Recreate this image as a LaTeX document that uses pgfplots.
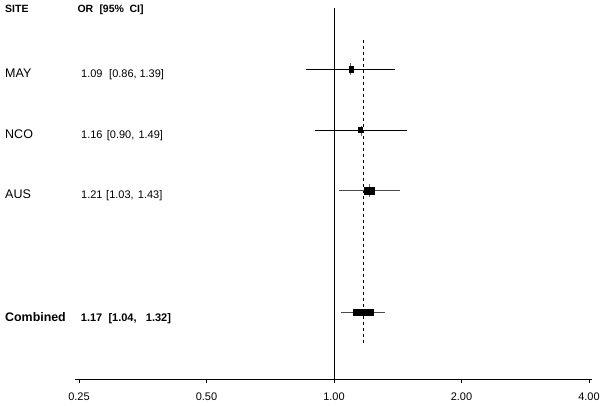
\documentclass[border=0pt]{standalone}
\usepackage{pgfplots}
\pgfplotsset{compat=1.18}
\usepackage{fontspec}
\setmainfont{Liberation Sans}

\begin{document}
\begin{tikzpicture}
\useasboundingbox (0pt,0pt) rectangle (602pt,406pt);
\begin{axis}[
  at={(75pt,27pt)}, anchor=south west,
  scale only axis, width=517pt, height=379pt,
  xmode=log, xmin=0.2446, xmax=4.066,
  ymin=-379, ymax=0,
  axis x line=bottom, axis line style={-, line width=0.7pt, black},
  hide y axis,
  xtick={0.25,0.5,1,2,4},
  xticklabels={0.25,0.50,1.00,2.00,4.00},
  minor xtick={},
  tick align=outside, major tick length=4pt,
  tick style={black, line width=0.7pt},
  xticklabel style={font=\fontsize{11}{13}\selectfont, anchor=north, yshift=-6pt},
  clip=false,
]
% reference line at 1 and combined estimate
\addplot[black, line width=0.7pt] coordinates {(1,-8) (1,-379)};
\addplot[black, line width=0.6pt, dash pattern=on 3pt off 3pt] coordinates {(1.17,-40) (1.17,-345)};
% confidence intervals
\addplot[black, line width=0.7pt] coordinates {(0.86,-69.5) (1.39,-69.5)};
\addplot[black, line width=0.7pt] coordinates {(0.90,-130) (1.49,-130)};
\addplot[black!70, line width=0.7pt] coordinates {(1.03,-190.7) (1.43,-190.7)};
\addplot[black!70, line width=0.7pt] coordinates {(1.04,-312.7) (1.32,-312.7)};
% point-estimate ticks
\addplot[black!60, line width=0.6pt] coordinates {(1.09,-63.3) (1.09,-75.3)};
\addplot[black!60, line width=0.6pt] coordinates {(1.16,-126) (1.16,-136)};
\addplot[black!60, line width=0.6pt] coordinates {(1.21,-184) (1.21,-196.7)};
% weight boxes
\addplot[fill=black, draw=none] coordinates {(1.0820,-66) (1.1118,-66) (1.1118,-73) (1.0820,-73)} -- cycle;
\addplot[fill=black, draw=none] coordinates {(1.1412,-126.7) (1.1727,-126.7) (1.1727,-133.3) (1.1412,-133.3)} -- cycle;
\addplot[fill=black, draw=none] coordinates {(1.1791,-187.3) (1.2517,-187.3) (1.2517,-194.7) (1.1791,-194.7)} -- cycle;
\addplot[fill=black, draw=none] coordinates {(1.1106,-309.3) (1.2409,-309.3) (1.2409,-316) (1.1106,-316)} -- cycle;
\end{axis}
% header
\begin{scope}[every node/.style={inner sep=0pt, anchor=base west}]
\node[font=\fontsize{10.5}{12}\selectfont\bfseries] at (5pt,393.7pt) {SITE};
\node[font=\fontsize{10.5}{12}\selectfont\bfseries] at (77.3pt,393.7pt) {OR};
\node[font=\fontsize{10.5}{12}\selectfont\bfseries] at (99.3pt,393.7pt) {[95\%};
\node[font=\fontsize{10.5}{12}\selectfont\bfseries] at (129.3pt,393.7pt) {CI]};
% rows
\node[font=\fontsize{12.5}{14}\selectfont] at (5pt,328.3pt) {MAY};
\node[font=\fontsize{11}{13}\selectfont] at (81pt,328.3pt) {1.09};
\node[font=\fontsize{11}{13}\selectfont] at (109pt,328.3pt) {[0.86,};
\node[font=\fontsize{11}{13}\selectfont] at (139.3pt,328.3pt) {1.39]};
\node[font=\fontsize{12.5}{14}\selectfont] at (5pt,267pt) {NCO};
\node[font=\fontsize{11}{13}\selectfont] at (81pt,267pt) {1.16};
\node[font=\fontsize{11}{13}\selectfont] at (106.7pt,267pt) {[0.90,};
\node[font=\fontsize{11}{13}\selectfont] at (138.3pt,267pt) {1.49]};
\node[font=\fontsize{12.5}{14}\selectfont] at (5pt,207pt) {AUS};
\node[font=\fontsize{11}{13}\selectfont] at (81pt,207pt) {1.21};
\node[font=\fontsize{11}{13}\selectfont] at (106pt,207pt) {[1.03,};
\node[font=\fontsize{11}{13}\selectfont] at (137.7pt,207pt) {1.43]};
\node[font=\fontsize{12.4}{14}\selectfont\bfseries] at (5pt,84.3pt) {Combined};
\node[font=\fontsize{11}{13}\selectfont\bfseries] at (80.7pt,84.3pt) {1.17};
\node[font=\fontsize{11}{13}\selectfont\bfseries] at (108.3pt,84.3pt) {[1.04,};
\node[font=\fontsize{11}{13}\selectfont\bfseries] at (145.7pt,84.3pt) {1.32]};
\end{scope}
\end{tikzpicture}
\end{document}
